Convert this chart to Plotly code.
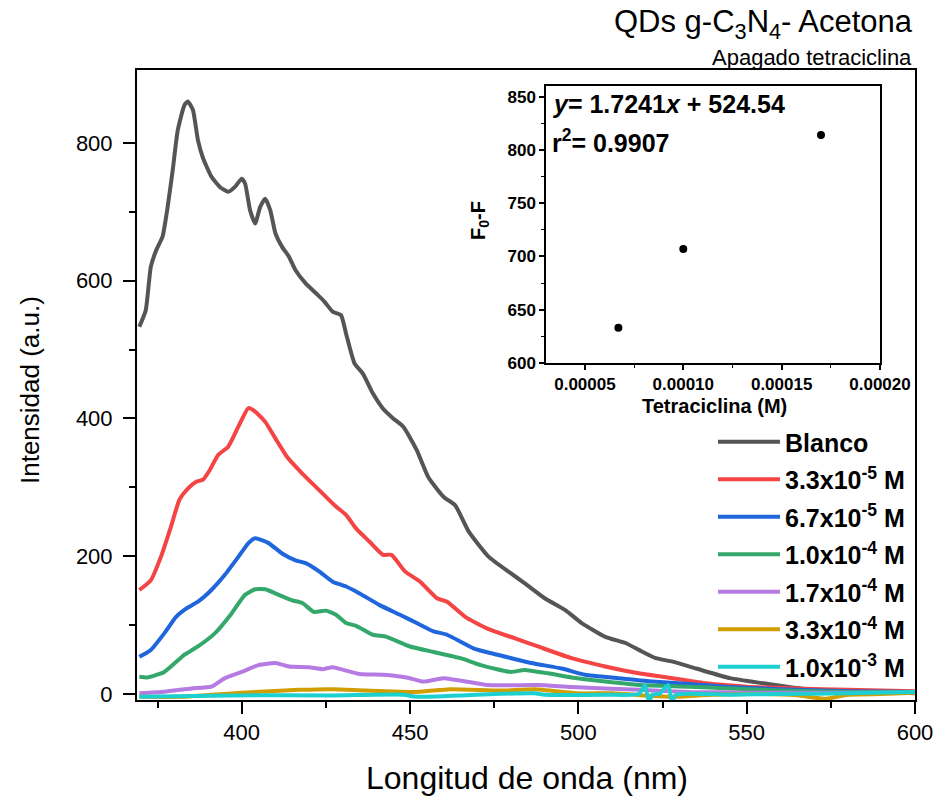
import plotly.graph_objects as go

# ---------------- data ----------------
blanco_nm = [369.6, 371.5, 373, 374.6, 376.5, 378, 379.5, 381, 383, 384, 385.5, 387, 388.5, 391, 393.5, 396, 398,
             400, 401, 402.5, 404, 405.5, 407, 408.5, 410, 412, 414, 416, 419, 422, 424.5, 427, 429.5, 431, 433.5,
             436, 439, 442, 445, 448, 452, 455.4, 460, 463.4, 467.4, 473.4, 480, 484, 490, 496, 501, 508, 514, 518,
             523, 528, 535, 545, 555, 562, 570, 580, 590, 600]
blanco_I = [533, 557, 620, 644, 664, 707, 760, 818, 855, 860, 848, 804, 778, 751, 736, 729, 736,
            748, 741, 702, 683, 707, 719, 702, 669, 649, 635, 615, 596, 582, 570, 555, 550, 523, 480,
            465, 436, 414, 400, 388, 354, 315, 286, 274, 236, 199, 175, 161, 139, 122, 103, 83, 74, 64,
            52, 47, 37, 23, 15.5, 10.6, 6, 5, 3.4, 1]

c1_nm = [369.6, 373, 376, 379, 381.5, 384, 386.5, 388.5, 390.5, 393, 396, 399, 402, 404, 407, 410, 413.5, 418,
         423, 428, 431, 434, 438, 442, 444.5, 448.5, 453, 458, 461, 466.4, 473, 481, 488, 498, 508, 518, 528,
         538, 550, 565, 580, 600]
c1_I = [151, 165, 199, 243, 282, 298, 308, 311, 325, 347, 359, 388, 415, 410, 395, 371, 344, 320,
        296, 272, 260, 240, 221, 202, 202, 178, 163, 139, 134, 112, 95, 81, 69, 52, 40, 30, 23,
        15.5, 10.6, 8, 6, 4]

c2_nm = [369.6, 373, 377, 380.5, 383.5, 387, 391, 395, 399, 402, 404, 408, 412, 416, 419, 423, 427, 431, 435,
         441, 447, 452, 457, 461, 469, 476, 486, 495, 502, 512, 522, 533, 545, 560, 580, 600]
c2_I = [54, 64, 88, 112, 124, 134, 151, 173, 199, 219, 226, 219, 204, 194, 190, 178, 163, 156, 146,
        129, 115, 103, 91, 86, 66, 57, 45, 37, 28, 23, 18, 14.5, 10, 7, 4, 3]

c3_nm = [369.6, 372, 377, 383, 387, 392, 397, 401, 404, 407, 411, 415, 418, 421.5, 425, 428, 431, 434, 439,
         443, 450, 457, 465, 471, 480, 484, 491, 498, 508, 518, 533, 545, 560, 580, 600]
c3_I = [25, 24, 32, 57, 69, 88, 117, 144, 152, 152, 144, 136, 132, 119, 121, 115, 103, 99, 86,
        83, 69, 61, 52, 42, 32, 35, 30, 24, 18, 13, 10.6, 8, 5, 3, 3]

c4_nm = [369.6, 377, 385, 391, 395, 400, 405, 410, 414, 420, 424, 427, 435, 442, 449, 454, 460, 473, 488,
         498, 518, 533, 550, 570, 600]
c4_I = [1, 3.3, 8, 10.6, 23, 32, 42, 45, 40, 39, 36, 39, 29, 28, 24, 18, 23, 13, 13,
        10, 6, 3, 2, 2, 2]

c5_nm = [369.6, 382, 400, 417, 427, 437, 452, 462, 477, 487, 500, 510, 522, 528, 540, 555, 565, 573.6, 580, 590, 600]
c5_I = [-4, -4, 2, 6, 7, 5, 3, 7, 5, 7, 1, 1, -3, -4, -1, 0, -2, -7, -1, 0, 2]

c6_nm = [369.6, 397, 427, 448, 452, 475, 487, 490, 508, 518, 519.8, 521, 522, 524, 526.7, 527.8, 529, 545,
         560, 580, 600]
c6_I = [-4, -2, -2, -1, -4, 0, 1, -1, -1, 0, 13, -12, -1, 0, 13, -12, -1, -1, 0, 1, 3]

series_names = ["Blanco", "3.3x10<sup>-5</sup> M", "6.7x10<sup>-5</sup> M", "1.0x10<sup>-4</sup> M",
                "1.7x10<sup>-4</sup> M", "3.3x10<sup>-4</sup> M", "1.0x10<sup>-3</sup> M"]
series_colors = ["#555555", "#F44444", "#1F66DD", "#33A86A", "#B57BE3", "#D09E00", "#1CCFD0"]
series_x = [blanco_nm, c1_nm, c2_nm, c3_nm, c4_nm, c5_nm, c6_nm]
series_y = [blanco_I, c1_I, c2_I, c3_I, c4_I, c5_I, c6_I]

# inset data
tc_conc = [6.7e-5, 1.0e-4, 1.7e-4]
f0_minus_f = [633, 707, 814]

FONT = "Arial, Liberation Sans, sans-serif"

# plot-area geometry in pixels
L, R, T, B = 137, 915, 70, 700
W, H = R - L, B - T

def px(xp):
    return (xp - L) / W

def py(yp):
    return (B - yp) / H

fig = go.Figure()

for i, (nm, I, name, col) in enumerate(zip(series_x, series_y, series_names, series_colors)):
    fig.add_trace(go.Scatter(
        x=nm, y=I, mode="lines", name=name,
        line=dict(color=col, width=4, shape="spline", smoothing=0.5),
        legendgroup=f"g{i}", showlegend=True,
        xaxis="x", yaxis="y"))

fig.add_trace(go.Scatter(
    x=tc_conc, y=f0_minus_f, mode="markers", showlegend=False,
    marker=dict(color="black", size=8), xaxis="x2", yaxis="y2"))

axis_common = dict(showline=True, linecolor="black", mirror=True, showgrid=False, zeroline=False,
                   ticks="outside", tickcolor="black", automargin=False)

fig.update_layout(
    width=941, height=799, autosize=False,
    margin=dict(l=L, r=941 - R, t=T, b=799 - B, autoexpand=False),
    paper_bgcolor="white", plot_bgcolor="white",
    font=dict(family=FONT, color="black"),
    xaxis=dict(**axis_common, domain=[0, 1], range=[368.9, 600], tickvals=[400, 450, 500, 550, 600],
               linewidth=2, tickwidth=2, ticklen=12,
               minor=dict(tickvals=[375, 425, 475, 525, 575], ticks="outside", ticklen=6, tickwidth=2,
                          tickcolor="black"),
               tickfont=dict(size=22, family=FONT)),
    yaxis=dict(**axis_common, domain=[0, 1], range=[-8.7, 905.7], tickvals=[0, 200, 400, 600, 800],
               linewidth=2, tickwidth=2, ticklen=12, ticklabelstandoff=6,
               minor=dict(tickvals=[100, 300, 500, 700], ticks="outside", ticklen=6, tickwidth=2,
                          tickcolor="black"),
               tickfont=dict(size=22, family=FONT)),
    xaxis2=dict(**axis_common, domain=[px(546), px(880)], anchor="y2", range=[0.0000302, 0.0002],
                tickvals=[0.00005, 0.0001, 0.00015, 0.0002], tickformat=".5f",
                linewidth=1.5, tickwidth=1.5, ticklen=5,
                minor=dict(tickvals=[0.000075, 0.000125, 0.000175], ticks="outside", ticklen=3,
                           tickwidth=1, tickcolor="black"),
                tickfont=dict(size=17, family=FONT, weight="bold")),
    yaxis2=dict(**axis_common, domain=[py(363), py(86)], anchor="x2", range=[600, 860],
                tickvals=[600, 650, 700, 750, 800, 850],
                linewidth=1.5, tickwidth=1.5, ticklen=5,
                minor=dict(tickvals=[625, 675, 725, 775, 825], ticks="outside", ticklen=3,
                           tickwidth=1, tickcolor="black"),
                tickfont=dict(size=17, family=FONT, weight="bold")),
    legend=dict(x=px(910), xanchor="right", y=py(419), yanchor="top", bgcolor="rgba(0,0,0,0)",
                font=dict(size=25, family=FONT, weight="bold", color="black"),
                tracegroupgap=2, itemwidth=62),
    showlegend=True,
)

fig.add_annotation(text="QDs g-C<sub>3</sub>N<sub>4</sub>- Acetona", xref="paper", yref="paper",
                   x=px(915), y=py(24), xanchor="right", yanchor="middle", showarrow=False,
                   font=dict(size=31, family=FONT))
fig.add_annotation(text="Apagado tetraciclina", xref="paper", yref="paper",
                   x=px(914), y=py(57), xanchor="right", yanchor="middle", showarrow=False,
                   font=dict(size=22, family=FONT))
fig.add_annotation(text="Longitud de onda (nm)", xref="paper", yref="paper", x=px(527), y=py(778),
                   xanchor="center", yanchor="middle", showarrow=False, font=dict(size=32, family=FONT))
fig.add_annotation(text="Intensidad (a.u.)", xref="paper", yref="paper", x=px(30), y=py(390),
                   xanchor="center", yanchor="middle", textangle=-90, showarrow=False,
                   font=dict(size=26, family=FONT))
fig.add_annotation(text="<b><i>y</i>= 1.7241<i>x</i> + 524.54</b>", xref="paper", yref="paper",
                   x=px(550), y=py(104), xanchor="left", yanchor="middle",
                   showarrow=False, font=dict(size=25, family=FONT))
fig.add_annotation(text="<b>r<sup>2</sup>= 0.9907</b>", xref="paper", yref="paper",
                   x=px(550), y=py(141), xanchor="left", yanchor="middle",
                   showarrow=False, font=dict(size=25, family=FONT))
fig.add_annotation(text="<b>Tetraciclina (M)</b>", xref="paper", yref="paper",
                   x=px(714), y=py(406), xanchor="center", yanchor="middle",
                   showarrow=False, font=dict(size=20, family=FONT))
fig.add_annotation(text="<b>F<sub>0</sub>-F</b>", xref="paper", yref="paper",
                   x=px(479), y=py(221), xanchor="center", yanchor="middle",
                   textangle=-90, showarrow=False, font=dict(size=20, family=FONT))

fig.write_html("out.html")
